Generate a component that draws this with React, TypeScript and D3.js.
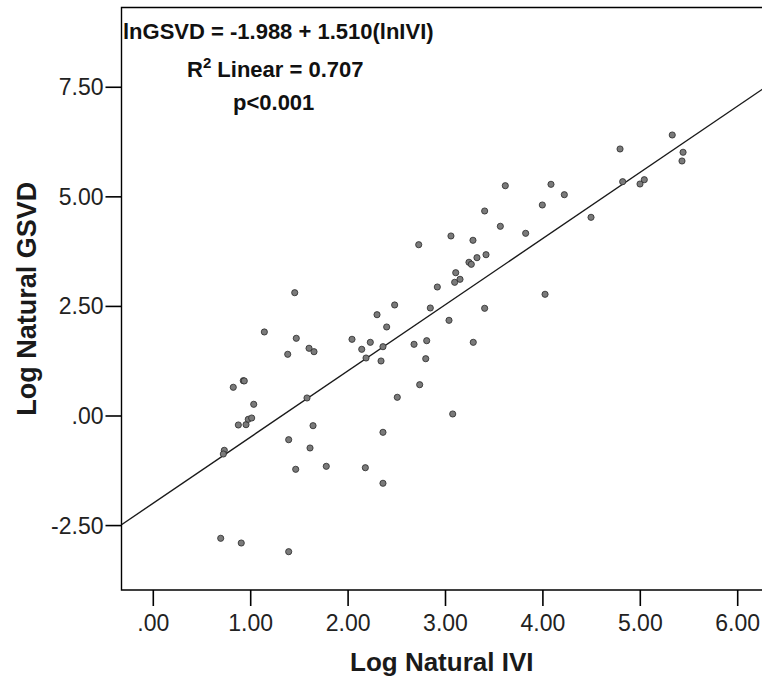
import React from "react";
import * as d3 from "d3";

const lnIVI = [
  5.328, 4.792, 5.439, 5.428, 4.819, 4.997, 5.041, 3.614, 4.083, 4.22,
  3.994, 3.402, 3.563, 4.494, 3.056, 3.823, 3.282, 3.416, 3.323, 3.241,
  3.265, 3.105, 3.149, 3.094, 4.022, 3.402, 3.036, 2.725, 2.916, 1.452,
  2.478, 2.297, 2.844, 2.396, 1.14, 1.468, 2.04, 2.228, 2.14, 2.358,
  2.677, 2.807, 3.285, 1.38, 1.599, 1.65, 2.184, 2.338, 2.797, 0.821,
  0.924, 0.934, 1.578, 2.735, 2.505, 1.031, 0.873, 0.952, 0.975, 1.01,
  3.074, 1.64, 1.39, 2.358, 1.609, 0.729, 0.719, 1.462, 1.776, 2.177,
  2.358, 0.692, 0.903, 1.39,
];
const lnGSVD = [
  6.411, 6.092, 6.017, 5.818, 5.346, 5.293, 5.391, 5.254, 5.286, 5.049,
  4.814, 4.677, 4.328, 4.533, 4.107, 4.168, 4.009, 3.68, 3.612, 3.507,
  3.461, 3.269, 3.119, 3.05, 2.777, 2.457, 2.183, 3.908, 2.943, 2.813,
  2.533, 2.311, 2.464, 2.031, 1.917, 1.773, 1.75, 1.681, 1.522, 1.581,
  1.636, 1.718, 1.681, 1.408, 1.545, 1.467, 1.323, 1.255, 1.307, 0.655,
  0.805, 0.8, 0.411, 0.714, 0.427, 0.267, -0.205, -0.198, -0.075, -0.046,
  0.046, -0.221, -0.541, -0.372, -0.73, -0.783, -0.867, -1.216, -1.148, -1.18,
  -1.535, -2.79, -2.898, -3.096,
];

const INTERCEPT = -1.988;
const SLOPE = 1.51;

const xTicks = [0, 1, 2, 3, 4, 5, 6];
const yTicks = [-2.5, 0, 2.5, 5, 7.5];

const xTitle = "Log Natural IVI";
const yTitle = "Log Natural GSVD";
const eqText = "lnGSVD = -1.988 + 1.510(lnIVI)";
const r2Label = "Linear = 0.707";
const pText = "p<0.001";

const W = 762;
const H = 678;
const LEFT = 121.5;
const TOP = 7.5;
const BOTTOM = 590;
const X_MIN = -0.3265;
const X_MAX = 6.4;
const Y_MIN = -3.97;
const Y_MAX = 9.32;

const fmt = (v: number) =>
  d3.format(".2f")(v).replace("\u2212", "-").replace(/^0\./, ".");

export default function App() {
  const x = d3.scaleLinear().domain([X_MIN, X_MAX]).range([LEFT, LEFT + (X_MAX - X_MIN) * 97.4]);
  const y = d3.scaleLinear().domain([Y_MIN, Y_MAX]).range([BOTTOM, TOP]);
  const line = d3
    .line<number>()
    .x((d) => x(d))
    .y((d) => y(INTERCEPT + SLOPE * d));
  const font = "'Liberation Sans', Arial, Helvetica, sans-serif";
  const right = x(X_MAX);
  return (
    <svg
      width={W}
      height={H}
      style={{ position: "absolute", left: 0, top: 0, background: "#fff" }}
      fontFamily={font}
    >
      <rect x={0} y={0} width={W} height={H} fill="#fff" />
      <path d={line([X_MIN, X_MAX]) || ""} stroke="#1a1a1a" strokeWidth={1.4} fill="none" />
      {lnIVI.map((v, i) => (
        <circle
          key={i}
          cx={x(v)}
          cy={y(lnGSVD[i])}
          r={3.1}
          fill="#7a7a7a"
          stroke="#2a2a2a"
          strokeWidth={0.8}
        />
      ))}
      <path
        d={`M${right},${TOP}H${LEFT}V${BOTTOM}H${right}`}
        fill="none"
        stroke="#000"
        strokeWidth={1.4}
      />
      {yTicks.map((t) => (
        <g key={"y" + t}>
          <line x1={LEFT - 16} x2={LEFT} y1={y(t)} y2={y(t)} stroke="#000" strokeWidth={1.6} />
          <text x={LEFT - 18} y={y(t)} dy="0.35em" textAnchor="end" fontSize={23} fill="#222">
            {fmt(t)}
          </text>
        </g>
      ))}
      {xTicks.map((t) => (
        <g key={"x" + t}>
          <line x1={x(t)} x2={x(t)} y1={BOTTOM} y2={BOTTOM + 16} stroke="#000" strokeWidth={1.6} />
          <text x={x(t)} y={631} textAnchor="middle" fontSize={23} fill="#222">
            {fmt(t)}
          </text>
        </g>
      ))}
      <text x={(LEFT + W) / 2} y={671} textAnchor="middle" fontSize={26} fontWeight="bold" fill="#1a1a1a">
        {xTitle}
      </text>
      <text
        transform={`translate(36,${(TOP + BOTTOM) / 2}) rotate(-90)`}
        textAnchor="middle"
        fontSize={27}
        fontWeight="bold"
        fill="#1a1a1a"
      >
        {yTitle}
      </text>
      <text x={123} y={39} fontSize={22} fontWeight="bold" fill="#111">
        {eqText}
      </text>
      <text x={187} y={77} fontSize={22} fontWeight="bold" fill="#111">
        R<tspan fontSize={15} dy={-9}>2</tspan>
        <tspan dy={9}>{" " + r2Label}</tspan>
      </text>
      <text x={233} y={110} fontSize={22} fontWeight="bold" fill="#111">
        {pText}
      </text>
    </svg>
  );
}
